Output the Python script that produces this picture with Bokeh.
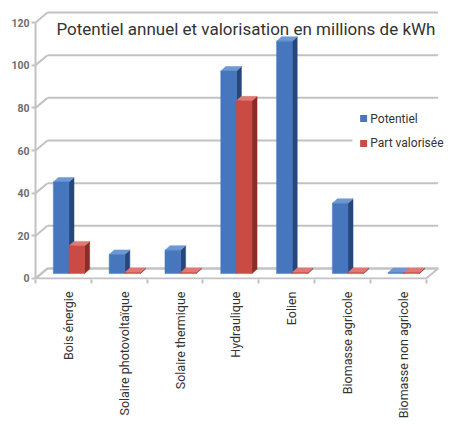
from bokeh.plotting import figure
from bokeh.models import Range1d, FixedTicker
from bokeh.core.properties import value
from bokeh.embed import file_html
from bokeh.resources import INLINE

# ---- data ----
categories = ["Bois énergie", "Solaire photovoltaïque", "Solaire thermique",
              "Hydraulique", "Eolien", "Biomasse agricole", "Biomasse non agricole"]
potentiel = [43, 9, 11, 95, 109, 33, 0.5]
valorisee = [13, 0.5, 0.5, 81, 0.5, 0.5, 0.5]
y_ticks = [0, 20, 40, 60, 80, 100, 120]
series_names = ["Potentiel", "Part valorisée"]
title_text = "Potentiel annuel et valorisation en millions de kWh"

# ---- style / 3D geometry constants ----
DX, DY = 0.215, 4.7      # back wall offset (x units, value units)
BX, BY = 0.09, 2.1       # bar depth offset
BASE = 2.3               # bar floor level
BAR_L = 0.32             # left of first bar inside category
BAR_W = 0.28             # bar width
GRID = "#c2c2c2"
FONT = "Roboto"
# annotation placement (data units)
TITLE_POS = (0.376, 117.2)
LEG_X, LEG_TX = 5.88, 6.0
LEG_Y = [75.0, 63.3]
LEG_BOX = (5.68, 7.45, 57.6, 79.5)

n = len(categories)
p = figure(width=448, height=422, output_backend="svg", toolbar_location=None,
           x_range=Range1d(0, 7.401), y_range=Range1d(-0.47, 126.6),
           min_border_left=35, min_border_right=0, min_border_top=8,
           min_border_bottom=143)
p.outline_line_color = None
p.grid.visible = False
p.background_fill_color = "white"

# floor
p.patch([0, n, n + DX, DX], [0, 0, DY, DY], fill_color="white",
        line_color=GRID, line_width=2)
# back wall gridlines and connectors
p.segment(x0=[DX] * len(y_ticks), y0=[v + DY for v in y_ticks],
          x1=[n + DX] * len(y_ticks), y1=[v + DY for v in y_ticks],
          line_color=GRID, line_width=2)
p.segment(x0=[0] * len(y_ticks), y0=y_ticks,
          x1=[DX] * len(y_ticks), y1=[v + DY for v in y_ticks],
          line_color=GRID, line_width=2)

colors = [("#4677be", "#26477a", "#6d98d4"), ("#c94b43", "#8a2c27", "#dc7a73")]
for s, vals in enumerate([potentiel, valorisee]):
    front, side, top = colors[s]
    lefts = [i + BAR_L + s * BAR_W for i in range(n)]
    rights = [l + BAR_W for l in lefts]
    tops = [BASE + v for v in vals]
    side_xs = [[r, r + BX, r + BX, r] for r in rights]
    side_ys = [[BASE, BASE + BY, t + BY, t] for t in tops]
    top_xs = [[l, r, r + BX, l + BX] for l, r in zip(lefts, rights)]
    top_ys = [[t, t, t + BY, t + BY] for t in tops]
    p.patches(side_xs, side_ys, fill_color=side, line_color=side, line_width=0.5)
    p.patches(top_xs, top_ys, fill_color=top, line_color=top, line_width=0.5)
    p.quad(left=lefts, right=rights, bottom=[BASE] * n, top=tops,
           fill_color=front, line_color=front, line_width=0.5)

# legend (white box covering the gridline, squares and labels)
p.quad(left=[LEG_BOX[0]], right=[LEG_BOX[1]], bottom=[LEG_BOX[2]], top=[LEG_BOX[3]],
       fill_color="white", line_color=None)
p.scatter(x=[LEG_X, LEG_X], y=LEG_Y, marker="square", size=7,
          fill_color=[colors[0][0], colors[1][0]], line_color=None)
p.text(x=[LEG_TX, LEG_TX], y=LEG_Y, text=series_names, text_font=value(FONT),
       text_font_size="12px", text_color="#333333", text_baseline="middle",
       text_align="left")

# title inside the plot
p.text(x=[TITLE_POS[0]], y=[TITLE_POS[1]], text=[title_text], text_font=value(FONT),
       text_font_size="17px", text_color="#333333", text_baseline="alphabetic",
       text_align="left")

# axes
p.yaxis.ticker = FixedTicker(ticks=y_ticks)
p.yaxis.bounds = (0, 120)
p.yaxis.axis_line_color = GRID
p.yaxis.axis_line_width = 2
p.yaxis.major_tick_line_color = GRID
p.yaxis.major_tick_line_width = 2
p.yaxis.major_tick_out = 4
p.yaxis.major_tick_in = 0
p.yaxis.minor_tick_line_color = None
p.yaxis.major_label_standoff = 2
p.yaxis.major_label_text_font = FONT
p.yaxis.major_label_text_font_style = "bold"
p.yaxis.major_label_text_font_size = "10.5px"
p.yaxis.major_label_text_color = "#6e6e6e"

centers = [i + 0.59 for i in range(n)]
p.xaxis.ticker = FixedTicker(ticks=centers, minor_ticks=list(range(n + 1)))
p.xaxis.major_label_overrides = {c: lab for c, lab in zip(centers, categories)}
p.xaxis.major_label_orientation = 1.5708
p.xaxis.axis_line_color = None
p.xaxis.major_tick_line_color = None
p.xaxis.minor_tick_line_color = GRID
p.xaxis.minor_tick_line_width = 2
p.xaxis.minor_tick_out = 4
p.xaxis.minor_tick_in = 0
p.xaxis.major_label_standoff = 6
p.xaxis.major_label_text_font = FONT
p.xaxis.major_label_text_font_size = "12.5px"
p.xaxis.major_label_text_color = "#333333"

open("out.html", "w").write(file_html(p, INLINE))
